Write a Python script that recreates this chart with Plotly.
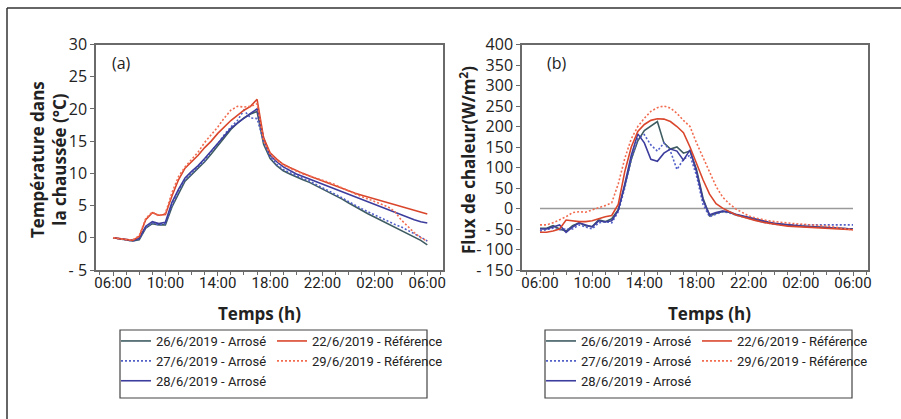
import plotly.graph_objects as go

# ---------------- data ----------------
time_h = [0, 0.5, 1, 1.5, 2, 2.5, 3, 3.5, 4, 4.5, 5, 5.5, 6, 6.5, 7, 7.5, 8, 8.5, 9, 9.5,
          10, 10.5, 11, 11.5, 12, 12.5, 13, 13.5, 14, 14.5, 15, 15.5, 16, 16.5, 17, 17.5,
          18, 18.5, 19, 19.5, 20, 20.5, 21, 21.5, 22, 22.5, 23, 23.5, 24]

# (a) Température dans la chaussée (°C)
temp_26_arrose = [0, -0.2, -0.4, -0.5, -0.3, 1.5, 2.2, 2.0, 2.0, 4.8, 6.8, 8.8, 9.8, 10.8, 11.8, 13.0,
                  14.3, 15.6, 16.8, 17.8, 18.6, 19.2, 19.6, 14.5, 12.3, 11.2, 10.4, 9.9, 9.4, 9.0,
                  8.6, 8.1, 7.6, 7.1, 6.6, 6.0, 5.4, 4.8, 4.2, 3.7, 3.2, 2.7, 2.2, 1.7, 1.2, 0.7,
                  0.2, -0.4, -1.1]
temp_27_arrose = [0, -0.2, -0.4, -0.5, -0.2, 1.6, 2.3, 2.0, 2.2, 5.0, 7.2, 9.0, 10.0, 11.0, 12.0, 13.4,
                  14.6, 16.0, 17.2, 18.2, 19.8, 18.6, 18.5, 15.0, 12.5, 11.4, 10.6, 10.1, 9.6, 9.2,
                  8.8, 8.3, 7.8, 7.3, 6.8, 6.2, 5.6, 5.0, 4.5, 4.0, 3.5, 3.0, 2.5, 2.1, 1.7, 1.2,
                  0.7, 0.1, -0.5]
temp_28_arrose = [0, -0.1, -0.3, -0.4, -0.1, 1.8, 2.5, 2.2, 2.4, 5.5, 7.5, 9.3, 10.3, 11.2, 12.3, 13.5,
                  14.6, 15.8, 17.0, 17.8, 18.6, 19.3, 20.0, 15.5, 12.8, 11.8, 11.0, 10.4, 9.9, 9.5,
                  9.1, 8.7, 8.3, 7.9, 7.5, 7.1, 6.7, 6.3, 5.9, 5.5, 5.1, 4.7, 4.3, 3.9, 3.5, 3.1,
                  2.8, 2.5, 2.3]
temp_22_ref = [0, -0.1, -0.3, -0.4, 0.2, 2.8, 3.9, 3.5, 3.6, 6.5, 9.0, 10.8, 11.8, 12.8, 14.0, 15.0,
               16.2, 17.2, 18.2, 19.0, 19.8, 20.4, 21.5, 15.5, 13.2, 12.2, 11.4, 10.9, 10.4, 10.0,
               9.6, 9.2, 8.8, 8.4, 8.0, 7.6, 7.2, 6.9, 6.6, 6.3, 6.0, 5.7, 5.4, 5.1, 4.8, 4.6,
               4.3, 4.0, 3.7]
temp_29_ref = [0, -0.2, -0.3, -0.3, 0.3, 3.0, 4.0, 3.4, 3.8, 7.0, 9.5, 11.0, 12.2, 13.3, 14.8, 16.0,
               17.2, 18.6, 19.8, 20.4, 20.3, 20.4, 20.8, 15.0, 13.0, 12.0, 11.3, 10.8, 10.3, 9.9,
               9.6, 9.3, 9.0, 8.6, 8.2, 7.7, 7.2, 6.8, 6.4, 6.0, 5.6, 5.2, 4.8, 4.1, 2.8, 1.8,
               0.8, 0.0, -0.5]

# (b) Flux de chaleur (W/m²)
flux_26_arrose = [-48, -48, -42, -50, -55, -42, -35, -42, -44, -28, -32, -25, -3, 55, 120, 165,
                  190, 200, 212, 160, 145, 150, 135, 140, 95, 25, -18, -12, -7, -9,
                  -15, -19, -23, -27, -31, -34, -37, -39, -41, -42, -43, -44, -45, -46, -47, -47,
                  -48, -49, -50]
flux_27_arrose = [-55, -52, -48, -52, -50, -50, -40, -45, -50, -35, -32, -35, -8, 50, 120, 170,
                  180, 155, 140, 160, 140, 95, 120, 130, 80, 10, -20, -14, -8, -10,
                  -16, -20, -24, -28, -32, -36, -38, -40, -40, -40, -40, -40, -40, -40, -40, -40,
                  -40, -40, -40]
flux_28_arrose = [-50, -50, -45, -40, -58, -45, -35, -40, -45, -30, -33, -30, -5, 60, 130, 182,
                  160, 120, 115, 135, 145, 140, 118, 143, 90, 20, -15, -10, -6, -8,
                  -14, -18, -22, -26, -30, -33, -36, -38, -40, -42, -43, -44, -45, -46, -47, -48,
                  -48, -49, -50]
flux_22_ref = [-58, -58, -55, -50, -28, -30, -32, -32, -30, -25, -20, -17, 10, 90, 150, 188,
               205, 215, 219, 218, 212, 200, 185, 150, 110, 70, 35, 12, 1, -8,
               -15, -20, -25, -29, -33, -36, -39, -41, -43, -44, -45, -46, -47, -48, -49, -50,
               -50, -51, -52]
flux_29_ref = [-40, -40, -35, -28, -20, -10, -8, -9, -3, 2, 7, 14, 60, 122, 170, 200,
               220, 237, 246, 250, 245, 232, 215, 200, 160, 125, 88, 54, 28, 12,
               -1, -10, -18, -23, -27, -30, -32, -34, -36, -37, -38, -39, -40, -41, -43, -45,
               -47, -49, -52]

arrose_names = ["26/6/2019 - Arrosé", "27/6/2019 - Arrosé", "28/6/2019 - Arrosé"]
ref_names = ["22/6/2019 - Référence", "29/6/2019 - Référence"]
temp_arrose = [temp_26_arrose, temp_27_arrose, temp_28_arrose]
temp_ref = [temp_22_ref, temp_29_ref]
flux_arrose = [flux_26_arrose, flux_27_arrose, flux_28_arrose]
flux_ref = [flux_22_ref, flux_29_ref]

x_tick_vals = [0, 4, 8, 12, 16, 20, 24]
x_tick_text = ["06:00", "10:00", "14:00", "18:00", "22:00", "02:00", "06:00"]
ya_tick_vals = [-5, 0, 5, 10, 15, 20, 25, 30]
ya_tick_text = ["- 5", "0", "5", "10", "15", "20", "25", "30"]
yb_tick_vals = [-150, -100, -50, 0, 50, 100, 150, 200, 250, 300, 350, 400]
yb_tick_text = ["- 150", "- 100", "- 50", "0", "50", "100", "150", "200", "250", "300", "350", "400"]

# ---------------- styles ----------------
arrose_styles = [
    dict(color="#3e5c62", dash="solid"),
    dict(color="#5260c8", dash="2px,2px"),
    dict(color="#3d3d9e", dash="solid"),
]
ref_styles = [
    dict(color="#d9462c", dash="solid"),
    dict(color="#f26c50", dash="2px,2px"),
]

W, H = 901, 419
def px(x):
    return x / W
def py(y):
    return 1 - y / H

NARROW = "Roboto"

fig = go.Figure()

def add_group(names, data, sty, xa, ya, leg):
    for name, ys, st in zip(names, data, sty):
        fig.add_trace(go.Scatter(x=time_h, y=ys, mode="lines", name=name,
                                 line=dict(color=st["color"], dash=st["dash"], width=1.6),
                                 xaxis=xa, yaxis=ya, legend=leg))

add_group(arrose_names, temp_arrose, arrose_styles, "x", "y", "legend")
add_group(ref_names, temp_ref, ref_styles, "x", "y", "legend2")

# zero reference line in (b)
fig.add_trace(go.Scatter(x=[time_h[0], time_h[-1]], y=[0, 0], mode="lines",
                         line=dict(color="#9a9a9a", width=1.6), showlegend=False,
                         hoverinfo="skip", xaxis="x2", yaxis="y2"))

add_group(arrose_names, flux_arrose, arrose_styles, "x2", "y2", "legend3")
add_group(ref_names, flux_ref, ref_styles, "x2", "y2", "legend4")

axis_common = dict(showline=True, linecolor="#6a6a6a", linewidth=1.5, mirror=True,
                   showgrid=False, zeroline=False, ticks="outside", tickcolor="#6a6a6a",
                   ticklen=4, tickwidth=1)

xfont = dict(family=NARROW, size=15, color="#222")
yfont = dict(family="Open Sans", size=16, color="#222")

def leg(xpix):
    return dict(orientation="v", x=px(xpix), y=py(326), xanchor="left", yanchor="top",
                borderwidth=0, bgcolor="rgba(0,0,0,0)", itemwidth=30, tracegroupgap=0,
                font=dict(family=NARROW, size=13, color="#222"))

def ann(text, xpix, ypix, size, bold=False, angle=0):
    return dict(text=("<b>%s</b>" % text) if bold else text, xref="paper", yref="paper",
                x=px(xpix), y=py(ypix), xanchor="center", yanchor="middle",
                showarrow=False, textangle=angle,
                font=dict(family="Open Sans", size=size, color="#222"))

fig.update_layout(
    width=W, height=H,
    margin=dict(l=0, r=0, t=0, b=0, autoexpand=False),
    paper_bgcolor="white", plot_bgcolor="white",
    xaxis=dict(domain=[px(96), px(443)], range=[-1.3, 25.2], anchor="y",
               tickmode="array", tickvals=x_tick_vals, ticktext=x_tick_text, tickfont=xfont,
               ticklabelstandoff=-6,
               minor=dict(tickmode="linear", tick0=0, dtick=1, ticks="outside", ticklen=3,
                          tickcolor="#6a6a6a"),
               **axis_common),
    yaxis=dict(domain=[py(270), py(44.5)], range=[-5, 30], anchor="x",
               tickmode="array", tickvals=ya_tick_vals, ticktext=ya_tick_text, tickfont=yfont,
               **axis_common),
    xaxis2=dict(domain=[px(522), px(868)], range=[-1.38, 25.15], anchor="y2",
                tickmode="array", tickvals=x_tick_vals, ticktext=x_tick_text, tickfont=xfont,
                ticklabelstandoff=-6,
                minor=dict(tickmode="linear", tick0=0, dtick=1, ticks="outside", ticklen=3,
                           tickcolor="#6a6a6a"),
                **axis_common),
    yaxis2=dict(domain=[py(270), py(44.5)], range=[-150, 400], anchor="x2",
                tickmode="array", tickvals=yb_tick_vals, ticktext=yb_tick_text, tickfont=yfont,
                **axis_common),
    legend=leg(116),
    legend2=leg(272),
    legend3=leg(541),
    legend4=leg(697),
    shapes=[
        dict(type="line", xref="paper", yref="paper", x0=px(7), x1=1.0, y0=py(8), y1=py(8),
             line=dict(color="#333", width=1.5)),
        dict(type="line", xref="paper", yref="paper", x0=px(7), x1=px(7), y0=py(8), y1=0,
             line=dict(color="#333", width=1.5)),
        dict(type="rect", xref="paper", yref="paper", x0=px(120), x1=px(427), y0=py(330), y1=py(398),
             line=dict(color="#444", width=1.2)),
        dict(type="rect", xref="paper", yref="paper", x0=px(545), x1=px(852), y0=py(330), y1=py(398),
             line=dict(color="#444", width=1.2)),
    ],
    annotations=[
        ann("(a)", 121, 63, 16),
        ann("(b)", 557, 63, 16),
        ann("Temps (h)", 259, 313, 17, bold=True),
        ann("Temps (h)", 709, 313, 17, bold=True),
        ann("Température dans<br>la chaussée (°C)", 49, 160, 17, bold=True, angle=-90),
        ann("Flux de chaleur(W/m<sup>2</sup>)", 468, 160, 17, bold=True, angle=-90),
    ],
)

fig.write_html("out.html", config={"displayModeBar": False},
               post_script="document.body.style.margin='0px';")
